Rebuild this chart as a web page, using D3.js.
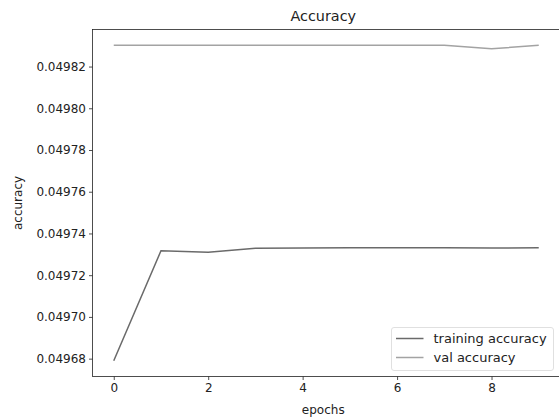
<!DOCTYPE html>
<html>
<head>
<meta charset="utf-8">
<script src="https://cdn.jsdelivr.net/npm/d3@7"></script>
<style>
  body { margin: 0; background: #fff; }
  svg { display: block; font-family: "DejaVu Sans", sans-serif; }
</style>
</head>
<body>
<script>
"use strict";
// data
const epochs = [0, 1, 2, 3, 4, 5, 6, 7, 8, 9]
const trainAcc = [0.049679, 0.0497317, 0.049731, 0.0497329, 0.049733, 0.0497332, 0.0497332, 0.0497332, 0.049733, 0.0497331]
const valAcc = [0.0498302, 0.0498302, 0.0498302, 0.0498302, 0.0498302, 0.0498302, 0.0498302, 0.0498302, 0.0498285, 0.0498302]
const xTicks = [0, 2, 4, 6, 8]
const yTicks = [0.04968, 0.04970, 0.04972, 0.04974, 0.04976, 0.04978, 0.04980, 0.04982]
const seriesNames = ["training accuracy", "val accuracy"]
const seriesColors = ["#6a6a6a", "#a3a3a3"]

const size = { width: 559, height: 419 }
const plot = { left: 92.5, right: 560, top: 29.5, bottom: 376.5 }

const svg = d3.select("body").append("svg")
    .attr("width", size.width)
    .attr("height", size.height)

// matplotlib style 5% padding on both axes
const xPad = (d3.max(epochs) - d3.min(epochs)) * 0.05
const x = d3.scaleLinear()
    .domain([d3.min(epochs) - xPad, d3.max(epochs) + xPad])
    .range([plot.left, plot.right])

const allY = trainAcc.concat(valAcc)
const yPad = (d3.max(allY) - d3.min(allY)) * 0.05
const y = d3.scaleLinear()
    .domain([d3.min(allY) - yPad, d3.max(allY) + yPad])
    .range([plot.bottom, plot.top])

// axes
const xAxis = d3.axisBottom(x).tickValues(xTicks).tickSize(3.5).tickPadding(3).tickFormat(d3.format("d"))
const yAxis = d3.axisLeft(y).tickValues(yTicks).tickSize(3.5).tickPadding(3).tickFormat(d3.format(".5f"))

const gx = svg.append("g")
    .attr("transform", `translate(0,${plot.bottom})`)
    .call(xAxis)
const gy = svg.append("g")
    .attr("transform", `translate(${plot.left},0)`)
    .call(yAxis)

for (const g of [gx, gy]) {
    g.select(".domain").remove()
    g.selectAll(".tick line").attr("stroke", "#222").attr("stroke-width", 0.8)
    g.selectAll(".tick text").attr("fill", "#222").attr("font-size", 12)
        .attr("font-family", "DejaVu Sans, sans-serif")
}

// frame
svg.append("rect")
    .attr("x", plot.left)
    .attr("y", plot.top)
    .attr("width", plot.right - plot.left)
    .attr("height", plot.bottom - plot.top)
    .attr("fill", "none")
    .attr("stroke", "#222")
    .attr("stroke-width", 0.8)

// lines
const line = d3.line()
    .x((d, i) => x(epochs[i]))
    .y(d => y(d))

const series = [trainAcc, valAcc]
series.forEach((vals, i) => {
    svg.append("path")
        .datum(vals)
        .attr("d", line)
        .attr("fill", "none")
        .attr("stroke", seriesColors[i])
        .attr("stroke-width", 1.5)
})

// titles
svg.append("text")
    .attr("x", (plot.left + plot.right) / 2 - 3)
    .attr("y", 21)
    .attr("text-anchor", "middle")
    .attr("font-size", 14.4)
    .attr("fill", "#222")
    .text("Accuracy")

svg.append("text")
    .attr("x", (plot.left + plot.right) / 2 - 3)
    .attr("y", 414)
    .attr("text-anchor", "middle")
    .attr("font-size", 12)
    .attr("fill", "#222")
    .text("epochs")

svg.append("text")
    .attr("transform", `translate(22,${(plot.top + plot.bottom) / 2}) rotate(-90)`)
    .attr("text-anchor", "middle")
    .attr("font-size", 12)
    .attr("fill", "#222")
    .text("accuracy")

// legend
const legend = svg.append("g").attr("transform", "translate(391.5,327.5)")
legend.append("rect")
    .attr("width", 162)
    .attr("height", 43)
    .attr("rx", 2.5)
    .attr("fill", "#fff")
    .attr("fill-opacity", 0.8)
    .attr("stroke", "#d8d8d8")
    .attr("stroke-width", 0.8)

seriesNames.forEach((name, i) => {
    const row = legend.append("g").attr("transform", `translate(0,${11 + i * 19})`)
    row.append("line")
        .attr("x1", 4.5).attr("x2", 32)
        .attr("stroke", seriesColors[i])
        .attr("stroke-width", 1.5)
    row.append("text")
        .attr("x", 42)
        .attr("y", 4.5)
        .attr("font-size", 13)
        .attr("fill", "#222")
        .text(name)
})
</script>
</body>
</html>
